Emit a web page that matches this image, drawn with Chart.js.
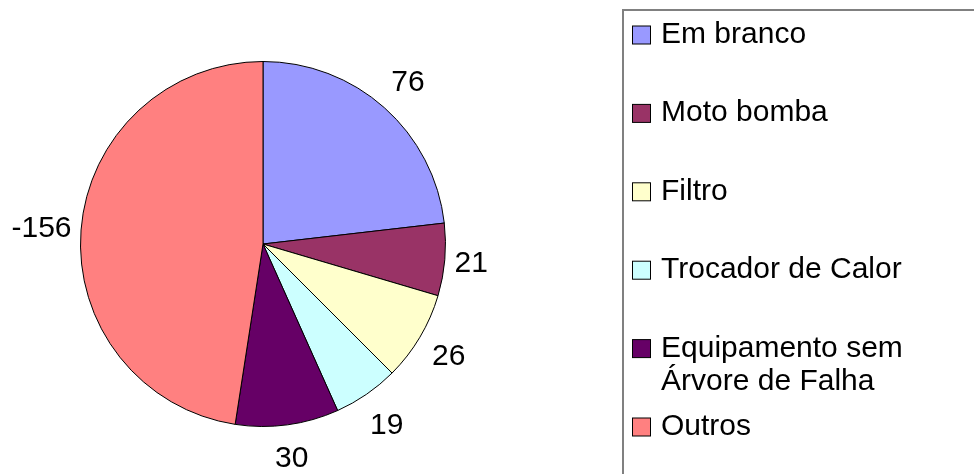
<!DOCTYPE html>
<html>
<head>
<meta charset="utf-8">
<script src="https://cdn.jsdelivr.net/npm/chart.js@4.4.1/dist/chart.umd.min.js"></script>
<style>
  html, body { margin: 0; padding: 0; background: #fff; }
  #wrap { width: 974px; height: 474px; position: relative; }
</style>
</head>
<body>
<div id="wrap"><canvas id="pie"></canvas></div>
<script>
const categories = ['Em branco', 'Moto bomba', 'Filtro', 'Trocador de Calor', ['Equipamento sem', 'Árvore de Falha'], 'Outros'];
const values = [76, 21, 26, 19, 30, -156];
const colors = ['#9999FF', '#993366', '#FFFFCC', '#CCFFFF', '#660066', '#FF8080'];

const FONT = '"Liberation Sans", Arial, sans-serif';

// value labels outside each slice
const outsideLabels = {
  id: 'outsideLabels',
  afterDatasetsDraw(chart) {
    const ctx = chart.ctx;
    const meta = chart.getDatasetMeta(0);
    ctx.save();
    ctx.font = '30px ' + FONT;
    ctx.fillStyle = '#000';
    ctx.textAlign = 'center';
    ctx.textBaseline = 'middle';
    meta.data.forEach((arc, i) => {
      const mid = (arc.startAngle + arc.endAngle) / 2;
      const txt = String(values[i]);
      const w = ctx.measureText(txt).width;
      const c = Math.cos(mid), s = Math.sin(mid);
      const ext = Math.abs(c) * w / 2 + Math.abs(s) * 22;
      const r = arc.outerRadius + 8 + ext;
      ctx.fillText(txt, arc.x + c * r, arc.y + s * r + 2);
    });
    ctx.restore();
  }
};

// boxed legend on the right
const boxLegend = {
  id: 'boxLegend',
  afterDraw(chart) {
    const ctx = chart.ctx;
    ctx.save();
    ctx.strokeStyle = '#808080';
    ctx.lineWidth = 2;
    ctx.strokeRect(623, 10, 400, 500);
    ctx.font = '30px ' + FONT;
    ctx.textBaseline = 'alphabetic';
    ctx.textAlign = 'left';
    let base = 43;
    categories.forEach((lab, i) => {
      ctx.fillStyle = colors[i];
      ctx.fillRect(632.5, base - 17, 18, 18);
      ctx.lineWidth = 1;
      ctx.strokeStyle = '#000';
      ctx.strokeRect(632.5, base - 17, 18, 18);
      ctx.fillStyle = '#000';
      const lines = Array.isArray(lab) ? lab : [lab];
      lines.forEach((ln, j) => ctx.fillText(ln, 661, base + j * 33.3));
      base += 78.4;
    });
    ctx.restore();
  }
};

new Chart(document.getElementById('pie'), {
  type: 'pie',
  data: {
    labels: categories,
    datasets: [{
      data: values.map(v => Math.abs(v)),
      backgroundColor: colors,
      borderColor: '#000',
      borderWidth: 1
    }]
  },
  options: {
    responsive: true,
    maintainAspectRatio: false,
    animation: false,
    layout: { padding: { left: 80, right: 528, top: 61, bottom: 47 } },
    plugins: {
      legend: { display: false },
      tooltip: { enabled: false }
    }
  },
  plugins: [outsideLabels, boxLegend]
});
</script>
</body>
</html>
